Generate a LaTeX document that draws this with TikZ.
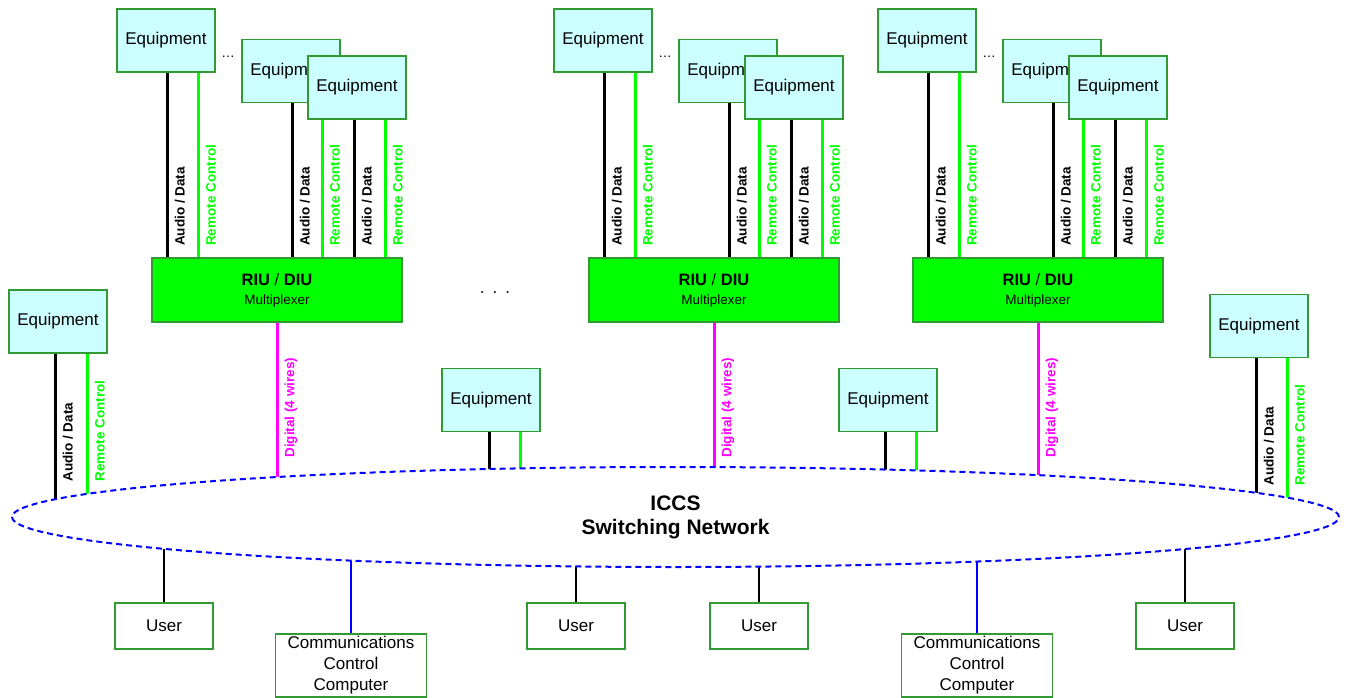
\documentclass[tikz,border=0pt]{standalone}
\usepackage{fontspec}
\setmainfont{Liberation Sans}
\usepackage{tikz}
\usetikzlibrary{shapes}

\definecolor{boxgreen}{RGB}{51,153,51}
\definecolor{eqcyan}{RGB}{204,255,255}
\definecolor{muxgreen}{RGB}{0,255,0}
\definecolor{rcgreen}{RGB}{0,255,0}
\definecolor{digmag}{RGB}{255,0,255}
\definecolor{netblue}{RGB}{0,0,255}

\tikzset{
  eqbox/.style={rectangle, draw=boxgreen, fill=eqcyan, line width=1.5pt, minimum width=98pt, minimum height=63pt, inner sep=0pt, font=\fontsize{17}{20}\selectfont},
  userbox/.style={rectangle, draw=boxgreen, fill=white, line width=1.5pt, minimum width=98pt, minimum height=46pt, inner sep=0pt, align=center, font=\fontsize{17}{21}\selectfont},
  muxbox/.style={rectangle, draw=boxgreen, fill=muxgreen, line width=1.5pt, minimum width=250pt, minimum height=64pt, inner sep=0pt, align=center, font=\fontsize{13.5}{19}\selectfont},
  ring/.style={ellipse, draw=netblue, fill=white, dash pattern=on 6pt off 4pt, line width=2pt, minimum width=1327pt, minimum height=100pt, inner sep=0pt, align=center, font=\fontsize{21}{24}\selectfont\bfseries},
  audio/.style={color=black, line width=3pt},
  remote/.style={color=rcgreen, line width=3pt},
  digital/.style={color=digmag, line width=3pt},
  uline/.style={color=black, line width=1.5pt},
  cline/.style={color=netblue, line width=1.5pt},
  vlab/.style={rotate=90, anchor=north west, inner sep=0pt, font=\fontsize{13.5}{16}\selectfont\bfseries},
  dots/.style={inner sep=0pt, font=\fontsize{13.5}{16}\selectfont}
}

\begin{document}
\begin{tikzpicture}[x=1pt, y=-1pt]
\useasboundingbox (0,0) rectangle (1349,698);
\coordinate (hub) at (675.5,517);

% first multiplexer
\node[eqbox] (a1) at (166,40.5) {Equipment};
\node[dots] (d1) at (228,57) {\ldots};
\node[eqbox] (b1) at (291,71) {Equipment};
\node[eqbox] (c1) at (357,87.5) {Equipment};
\node[muxbox] (m1) at (277,290) {{\fontsize{16.5}{19}\selectfont\textbf{RIU} / \textbf{DIU}}\\Multiplexer};

% second multiplexer
\node[eqbox] (a2) at (603,40.5) {Equipment};
\node[dots] (d2) at (665,57) {\ldots};
\node[eqbox] (b2) at (728,71) {Equipment};
\node[eqbox] (c2) at (794,87.5) {Equipment};
\node[muxbox] (m2) at (714,290) {{\fontsize{16.5}{19}\selectfont\textbf{RIU} / \textbf{DIU}}\\Multiplexer};

% third multiplexer
\node[eqbox] (a3) at (927,40.5) {Equipment};
\node[dots] (d3) at (989,57) {\ldots};
\node[eqbox] (b3) at (1052,71) {Equipment};
\node[eqbox] (c3) at (1118,87.5) {Equipment};
\node[muxbox] (m3) at (1038,290) {{\fontsize{16.5}{19}\selectfont\textbf{RIU} / \textbf{DIU}}\\Multiplexer};

\node[font=\fontsize{17}{20}\selectfont] (gap) at (495,293) {.\hspace{8pt}.\hspace{8pt}.};

% stand-alone equipment
\node[eqbox] (e1) at (58,321.5) {Equipment};
\node[eqbox] (e2) at (491,400) {Equipment};
\node[eqbox] (e3) at (888,400) {Equipment};
\node[eqbox] (e4) at (1259,326) {Equipment};

% users and computers
\node[userbox] (u1) at (164,626) {User};
\node[userbox] (u2) at (576,626) {User};
\node[userbox] (u3) at (759,626) {User};
\node[userbox] (u4) at (1185,626) {User};
\node[userbox, minimum width=151pt, minimum height=63pt] (k1) at (351,665.5) {Communications\\Control\\Computer};
\node[userbox, minimum width=151pt, minimum height=63pt] (k2) at (977,665.5) {Communications\\Control\\Computer};

% lines into the first multiplexer
\draw[audio] ([xshift=51pt]a1.south west) -- ([xshift=51pt]a1.south west |- m1.north) node[shift={(6pt,10pt)},vlab] {Audio / Data};
\draw[remote] ([xshift=82pt]a1.south west) -- ([xshift=82pt]a1.south west |- m1.north) node[shift={(6pt,10pt)},vlab] {Remote Control};
\draw[audio] ([xshift=51pt]b1.south west) -- ([xshift=51pt]b1.south west |- m1.north) node[shift={(6pt,10pt)},vlab] {Audio / Data};
\draw[remote] ([xshift=15pt]c1.south west) -- ([xshift=15pt]c1.south west |- m1.north) node[shift={(6pt,10pt)},vlab] {Remote Control};
\draw[audio] ([xshift=47pt]c1.south west) -- ([xshift=47pt]c1.south west |- m1.north) node[shift={(6pt,10pt)},vlab] {Audio / Data};
\draw[remote] ([xshift=78pt]c1.south west) -- ([xshift=78pt]c1.south west |- m1.north) node[shift={(6pt,10pt)},vlab] {Remote Control};
\draw[digital] (m1.south) -- (m1.south |- hub) node[shift={(6pt,58pt)},vlab] {Digital (4 wires)};

% lines into the second multiplexer
\draw[audio] ([xshift=51pt]a2.south west) -- ([xshift=51pt]a2.south west |- m2.north) node[shift={(6pt,10pt)},vlab] {Audio / Data};
\draw[remote] ([xshift=82pt]a2.south west) -- ([xshift=82pt]a2.south west |- m2.north) node[shift={(6pt,10pt)},vlab] {Remote Control};
\draw[audio] ([xshift=51pt]b2.south west) -- ([xshift=51pt]b2.south west |- m2.north) node[shift={(6pt,10pt)},vlab] {Audio / Data};
\draw[remote] ([xshift=15pt]c2.south west) -- ([xshift=15pt]c2.south west |- m2.north) node[shift={(6pt,10pt)},vlab] {Remote Control};
\draw[audio] ([xshift=47pt]c2.south west) -- ([xshift=47pt]c2.south west |- m2.north) node[shift={(6pt,10pt)},vlab] {Audio / Data};
\draw[remote] ([xshift=78pt]c2.south west) -- ([xshift=78pt]c2.south west |- m2.north) node[shift={(6pt,10pt)},vlab] {Remote Control};
\draw[digital] (m2.south) -- (m2.south |- hub) node[shift={(6pt,58pt)},vlab] {Digital (4 wires)};

% lines into the third multiplexer
\draw[audio] ([xshift=51pt]a3.south west) -- ([xshift=51pt]a3.south west |- m3.north) node[shift={(6pt,10pt)},vlab] {Audio / Data};
\draw[remote] ([xshift=82pt]a3.south west) -- ([xshift=82pt]a3.south west |- m3.north) node[shift={(6pt,10pt)},vlab] {Remote Control};
\draw[audio] ([xshift=51pt]b3.south west) -- ([xshift=51pt]b3.south west |- m3.north) node[shift={(6pt,10pt)},vlab] {Audio / Data};
\draw[remote] ([xshift=15pt]c3.south west) -- ([xshift=15pt]c3.south west |- m3.north) node[shift={(6pt,10pt)},vlab] {Remote Control};
\draw[audio] ([xshift=47pt]c3.south west) -- ([xshift=47pt]c3.south west |- m3.north) node[shift={(6pt,10pt)},vlab] {Audio / Data};
\draw[remote] ([xshift=78pt]c3.south west) -- ([xshift=78pt]c3.south west |- m3.north) node[shift={(6pt,10pt)},vlab] {Remote Control};
\draw[digital] (m3.south) -- (m3.south |- hub) node[shift={(6pt,58pt)},vlab] {Digital (4 wires)};

% stand-alone equipment to the network
\draw[audio] ([xshift=47pt]e1.south west) -- ([xshift=47pt]e1.south west |- hub) node[shift={(6pt,34pt)},vlab] {Audio / Data};
\draw[remote] ([xshift=79pt]e1.south west) -- ([xshift=79pt]e1.south west |- hub) node[shift={(6pt,34pt)},vlab] {Remote Control};
\draw[audio] ([xshift=48pt]e2.south west) -- ([xshift=48pt]e2.south west |- hub);
\draw[remote] ([xshift=79pt]e2.south west) -- ([xshift=79pt]e2.south west |- hub);
\draw[audio] ([xshift=47pt]e3.south west) -- ([xshift=47pt]e3.south west |- hub);
\draw[remote] ([xshift=78pt]e3.south west) -- ([xshift=78pt]e3.south west |- hub);
\draw[audio] ([xshift=47pt]e4.south west) -- ([xshift=47pt]e4.south west |- hub) node[shift={(6pt,30pt)},vlab] {Audio / Data};
\draw[remote] ([xshift=78pt]e4.south west) -- ([xshift=78pt]e4.south west |- hub) node[shift={(6pt,30pt)},vlab] {Remote Control};

% users to the network
\draw[uline] (u1.north) -- (u1.north |- hub);
\draw[uline] (u2.north) -- (u2.north |- hub);
\draw[uline] (u3.north) -- (u3.north |- hub);
\draw[uline] (u4.north) -- (u4.north |- hub);
\draw[cline] (k1.north) -- (k1.north |- hub);
\draw[cline] (k2.north) -- (k2.north |- hub);

% switching network on top
\node[ring] (net) at (hub) {ICCS\\Switching Network};
\end{tikzpicture}
\end{document}
